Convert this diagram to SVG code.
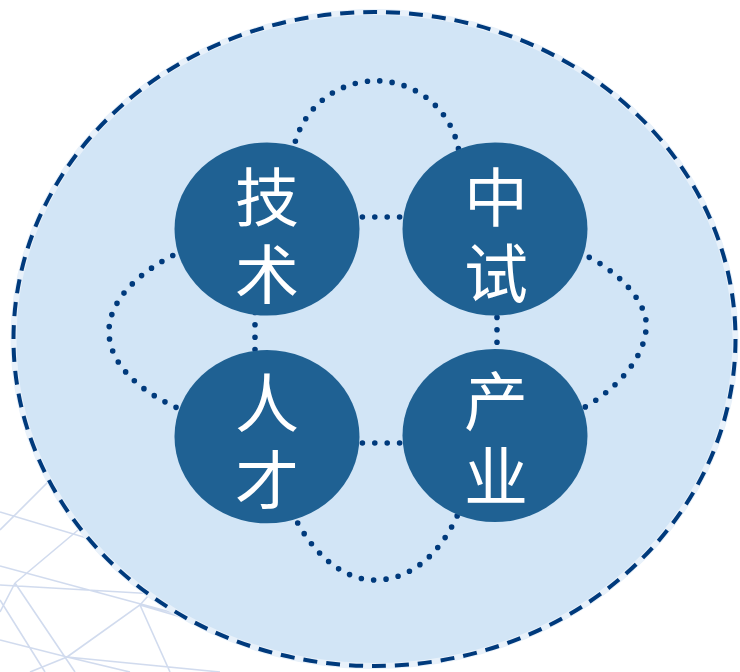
<svg xmlns="http://www.w3.org/2000/svg" width="740" height="672" viewBox="0 0 740 672">
  <style>
    .net { stroke: #a3b8de; stroke-width: 1.6; opacity: 0.5; fill: none; }
    .dots { fill: none; stroke: #003a7c; stroke-width: 5.6; stroke-linecap: round; stroke-dasharray: 0 12.4; }
    .node { fill: #1f6193; }
    .lbl { fill: #ffffff; font-family: "Noto Sans CJK SC", "Noto Sans", sans-serif; font-size: 64px; font-weight: 400; text-anchor: middle; dominant-baseline: central; }
  </style>
  <rect x="0" y="0" width="740" height="672" fill="#ffffff"/>
  <g id="network">
    <path class="net" d="M0,512 L120,548 M0,566 L200,620 M0,585 L260,600 M15,583 L75,672 M15,583 L0,612 M15,583 L90,520 M67,657 L140,605 L180,560 M0,640 L67,657 L220,672 M30,672 L67,657 M67,657 L130,672 M0,600 L45,672 M140,605 L260,640 M140,605 L170,672 M0,530 L60,470 M90,520 L200,560"/>
  </g>
  <g id="outer">
    <ellipse cx="374.5" cy="339" rx="361" ry="327" fill="#d2e5f6"/>
    <ellipse cx="374.5" cy="339" rx="361" ry="327" fill="none" stroke="#e8f1fa" stroke-width="6"/>
    <ellipse cx="374.5" cy="339" rx="361" ry="327" fill="none" stroke="#003a7c" stroke-width="4" stroke-dasharray="14 9"/>
  </g>
  <g id="connectors">
    <path class="dots" d="M292.8,153.3 A84,84 0 0 1 459.7,157.7"/>
    <path class="dots" d="M578,252 C620,270 650,305 646,330 C643,360 615,392 576,412"/>
    <path class="dots" d="M292,512 C310,550 340,580 375,580 C410,580 440,555 458,514"/>
    <path class="dots" d="M184,250 C140,270 108,300 109,333 C110,365 140,392 182,410"/>
    <path class="dots" d="M350,217 L412,217"/>
    <path class="dots" d="M350,443 L412,443"/>
    <path class="dots" d="M255,300 L255,362"/>
    <path class="dots" d="M497,305 L497,362"/>
  </g>
  <g id="node-jishu">
    <ellipse class="node" cx="267" cy="229" rx="92.5" ry="86.6"/>
    <text class="lbl" x="267" y="192.5">技</text>
    <text class="lbl" x="267" y="270">术</text>
  </g>
  <g id="node-zhongshi">
    <ellipse class="node" cx="495" cy="229" rx="92.5" ry="86.6"/>
    <text class="lbl" x="496" y="192.5">中</text>
    <text class="lbl" x="496" y="269">试</text>
  </g>
  <g id="node-rencai">
    <ellipse class="node" cx="267" cy="436.7" rx="92.5" ry="86.6"/>
    <text class="lbl" x="267" y="398.6">人</text>
    <text class="lbl" x="267" y="475.7">才</text>
  </g>
  <g id="node-chanye">
    <ellipse class="node" cx="495" cy="435.5" rx="92.5" ry="86.6"/>
    <text class="lbl" x="496" y="397">产</text>
    <text class="lbl" x="496" y="472">业</text>
  </g>
</svg>
